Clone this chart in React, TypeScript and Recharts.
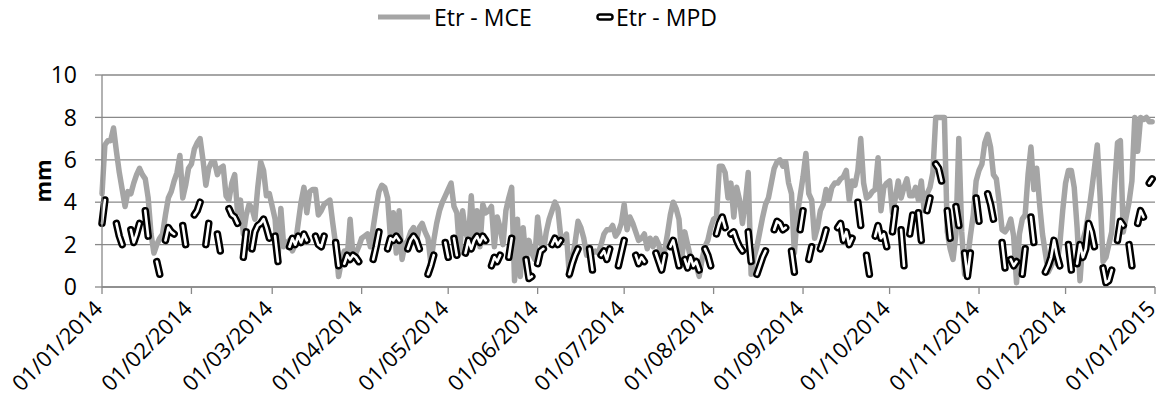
import React from 'react';
import { LineChart, Line, XAxis, YAxis, CartesianGrid, Label } from 'recharts';

// Etr - MCE, daily values (mm), one array per month of 2014
const mceJan = [4.4, 6.7, 6.9, 6.9, 7.5, 6.4, 5.4, 4.6, 3.8, 4.5, 4.4, 4.9, 5.3, 5.6, 5.3, 5.1, 4.2, 2.5, 1.6, 2.0, 2.3, 2.5, 3.4, 4.2, 4.5, 5.0, 5.4, 6.2, 4.2, 4.8, 5.6];
const mceFeb = [5.8, 6.5, 6.8, 7.0, 6.0, 4.8, 5.6, 5.9, 5.9, 5.3, 5.6, 5.7, 4.3, 4.1, 4.9, 5.3, 3.5, 4.1, 2.5, 3.4, 3.9, 3.7, 3.2, 4.7, 5.9, 5.5, 4.3, 4.4];
const mceMar = [3.8, 3.2, 1.3, 3.7, 1.9, 2.1, 2.2, 1.7, 2.0, 3.0, 4.0, 4.7, 3.5, 4.5, 4.6, 4.6, 3.4, 3.6, 3.9, 4.0, 4.1, 3.0, 2.0, 0.5, 1.2, 1.7, 1.4, 3.2, 1.5, 1.6, 1.9];
const mceApr = [2.3, 2.4, 2.5, 1.9, 2.8, 3.7, 4.5, 4.8, 4.7, 4.2, 2.3, 3.5, 1.6, 3.6, 1.3, 2.0, 2.2, 2.6, 2.8, 2.2, 2.8, 3.0, 2.6, 2.3, 1.1, 2.2, 3.0, 3.6, 4.0, 4.3];
const mceMay = [4.6, 4.9, 3.8, 3.5, 1.6, 3.6, 2.6, 2.2, 4.3, 2.2, 3.6, 1.9, 3.9, 3.5, 3.6, 3.8, 1.9, 3.3, 2.8, 2.0, 3.6, 4.2, 4.7, 0.3, 3.2, 0.5, 2.8, 1.2, 2.2, 1.6, 1.3];
const mceJun = [3.3, 2.2, 1.7, 2.6, 3.2, 3.6, 4.0, 3.7, 2.4, 2.2, 2.5, 0.5, 1.3, 2.1, 3.1, 2.8, 2.3, 1.5, 1.7, 1.6, 1.7, 1.6, 2.0, 2.5, 2.7, 2.7, 2.9, 2.4, 2.6, 3.0];
const mceJul = [3.9, 2.7, 3.3, 3.0, 2.6, 2.2, 2.3, 2.5, 1.8, 2.3, 1.9, 2.3, 2.0, 1.3, 1.7, 2.5, 3.4, 4.0, 3.7, 3.2, 1.4, 2.6, 2.0, 1.4, 1.3, 1.0, 0.5, 1.3, 1.9, 2.2, 2.8];
const mceAug = [3.2, 3.3, 5.7, 5.7, 5.4, 4.2, 4.9, 3.3, 4.7, 4.1, 3.0, 4.0, 5.4, 0.6, 1.4, 1.9, 2.6, 3.3, 3.9, 4.2, 4.9, 5.6, 5.9, 6.0, 5.7, 5.9, 4.9, 4.4, 1.6, 3.4, 4.3];
const mceSep = [5.2, 6.3, 4.4, 4.1, 2.3, 2.8, 3.6, 3.9, 4.6, 4.1, 4.7, 4.9, 4.9, 5.1, 5.2, 5.5, 4.1, 5.0, 4.8, 5.5, 7.0, 4.9, 4.2, 4.3, 4.5, 4.6, 6.1, 3.6, 4.7, 4.9];
const mceOct = [5.0, 3.5, 4.2, 5.0, 4.2, 4.7, 5.1, 4.3, 4.3, 4.7, 4.1, 5.0, 3.6, 4.4, 4.7, 5.4, 8.0, 8.0, 8.0, 8.0, 2.6, 1.8, 1.3, 2.5, 7.0, 2.6, 0.6, 1.3, 2.4, 3.4, 5.0];
const mceNov = [5.5, 5.8, 6.8, 7.2, 6.6, 5.3, 5.1, 4.0, 2.7, 2.6, 2.8, 3.2, 2.4, 0.2, 2.5, 3.2, 3.4, 5.3, 6.6, 4.6, 5.6, 3.9, 2.5, 1.6, 0.7, 1.0, 1.9, 1.1, 2.0, 3.6];
const mceDec = [4.9, 5.5, 5.5, 4.7, 2.8, 0.3, 2.2, 2.7, 3.5, 4.5, 5.6, 6.7, 4.2, 1.2, 1.4, 2.0, 2.6, 4.8, 6.8, 6.9, 2.6, 3.3, 4.0, 5.0, 8.0, 6.4, 8.0, 7.9, 8.0, 7.8, 7.8];

// Etr - MPD: runs of consecutive days [first day of year (0 = 01/01/2014), values]
const mpdRuns: [number, number[]][] = [
  [0, [3.0, 4.1]], [5, [3.0, 2.4, 2.0]], [10, [2.7, 2.1, 2.5, 3.0]], [15, [3.6, 2.4]],
  [19, [1.2, 0.6]], [22, [2.2, 2.8, 2.6, 2.5]], [28, [2.9, 2.0]], [32, [3.4, 3.6, 4.0]],
  [36, [2.0, 3.0]], [40, [2.5, 1.7]], [44, [3.7, 3.4, 3.3, 3.0]], [49, [1.4, 2.6]],
  [52, [1.8, 2.6, 2.9, 3.0, 3.2, 2.8, 2.3]], [60, [2.4, 1.2]], [65, [1.9, 2.3, 2.0, 2.4, 2.1, 2.5, 2.2]],
  [74, [2.4, 2.0, 1.9, 2.4]], [81, [2.1, 1.0]], [84, [1.1, 1.5, 1.3, 1.5, 1.4, 1.2]],
  [94, [1.3, 1.9, 2.6]], [99, [1.8, 2.3, 2.2, 2.4, 2.2]], [106, [1.8, 2.2, 2.4, 2.2, 1.8]],
  [113, [0.6, 1.0, 1.5]], [119, [2.1, 1.4]], [122, [2.3, 1.5]],
  [126, [1.6, 2.2, 1.8, 2.2, 2.4, 2.1, 2.4, 2.2]], [135, [1.0, 1.4, 1.2, 1.5]], [141, [1.4, 2.3]],
  [147, [1.3, 0.4, 0.5]], [151, [1.1, 1.7, 1.8]], [156, [2.0, 2.3, 2.0, 2.2]], [162, [0.6, 1.1, 1.5, 1.8]],
  [169, [1.8, 0.8]], [173, [1.5, 1.7, 1.3, 1.8]], [179, [1.0, 1.6, 2.2]], [185, [1.5, 1.1, 1.4, 1.2]],
  [192, [1.6, 1.2, 0.8, 1.5]], [197, [1.9, 2.2, 1.6, 1.0]], [202, [1.3, 0.9, 1.4, 1.0, 1.2, 0.8]],
  [209, [1.8, 1.5, 1.0]], [213, [2.5, 3.0, 3.3, 2.8]], [218, [2.5, 2.6, 2.2, 1.9, 1.7]], [224, [2.6, 1.2]],
  [227, [0.6, 1.0, 1.4, 1.7]], [233, [2.7, 3.1, 3.0, 2.7, 2.8]], [239, [1.7, 0.7]], [242, [2.7, 3.6]],
  [245, [1.3, 1.9]], [249, [1.8, 2.2, 2.7]], [255, [2.8, 3.0, 2.2, 2.6, 2.0, 2.3]], [262, [4.0, 2.9]],
  [265, [1.5, 0.6]], [268, [2.4, 2.9, 2.3, 2.5, 1.9]], [274, [2.6, 3.7]], [277, [2.7, 1.0]],
  [280, [2.5, 3.4]], [283, [3.5, 2.2]], [286, [3.6, 4.2]], [289, [5.8, 5.6, 5.0]], [293, [3.6, 2.3]],
  [296, [3.8, 2.9]], [299, [1.6, 0.5, 1.6]], [303, [4.2, 3.1]], [307, [4.4, 3.9, 3.2]], [312, [2.1, 0.9]],
  [315, [1.3, 1.0, 1.2]], [319, [0.6, 1.8]], [322, [3.3, 2.1]], [327, [0.7, 1.0, 1.4, 2.2, 1.5, 1.0]],
  [335, [2.0, 0.8]], [338, [1.1, 2.0, 1.4, 1.8]], [342, [3.0, 2.6, 1.9]], [347, [0.9, 0.2, 0.3, 0.8]],
  [352, [2.2, 3.1, 2.9]], [356, [2.0, 1.0]], [359, [3.0, 3.6, 3.3]], [363, [4.9, 5.1]],
];

const monthStartDays = [0, 31, 59, 90, 120, 151, 181, 212, 243, 273, 304, 334, 365];
const monthLabels = ['01/01/2014', '01/02/2014', '01/03/2014', '01/04/2014', '01/05/2014', '01/06/2014', '01/07/2014', '01/08/2014', '01/09/2014', '01/10/2014', '01/11/2014', '01/12/2014', '01/01/2015'];
const yTicks = [0, 2, 4, 6, 8, 10];

const mceAll = [mceJan, mceFeb, mceMar, mceApr, mceMay, mceJun, mceJul, mceAug, mceSep, mceOct, mceNov, mceDec].flat();
const mpdAll: (number | null)[] = mceAll.map(() => null);
mpdRuns.forEach(([start, vals]) => vals.forEach((v, i) => { mpdAll[start + i] = v; }));
const data = mceAll.map((v, i) => ({ day: i, mce: v, mpd: mpdAll[i] }));

const FONT = "'Open Sans', sans-serif";
const GRID = '#898989';
const GRAY = '#A5A5A5';

const XTick = (props: any) => {
  const { x, y, payload } = props;
  const idx = monthStartDays.indexOf(payload.value);
  const label = idx >= 0 ? monthLabels[idx] : '';
  const ax = x + 2;
  return (
    <text x={ax} y={y} textAnchor="end" fontFamily={FONT} fontSize={22} fill="#000" transform={`rotate(-45 ${ax} ${y})`}>
      {label}
    </text>
  );
};

export default function App() {
  return (
    <div style={{ position: 'relative', width: 1163, height: 417, background: '#fff' }}>
      <style>{'body{margin:0;}'}</style>
      <LineChart width={1163} height={417} data={data} margin={{ top: 75, right: 8, bottom: 0, left: 0 }}>
        <CartesianGrid vertical={false} stroke={GRID} strokeWidth={1.3} />
        <XAxis
          dataKey="day"
          type="number"
          domain={[0, 365]}
          ticks={monthStartDays}
          interval={0}
          height={130}
          tickSize={7}
          tickMargin={16}
          axisLine={{ stroke: GRID, strokeWidth: 1.3 }}
          tickLine={{ stroke: GRID, strokeWidth: 1.3 }}
          tick={<XTick />}
        />
        <YAxis
          domain={[0, 10]}
          ticks={yTicks}
          width={102}
          tickSize={7}
          tickMargin={18}
          axisLine={{ stroke: GRID, strokeWidth: 1.3 }}
          tickLine={{ stroke: GRID, strokeWidth: 1.3 }}
          tick={{ fontFamily: FONT, fontSize: 23, fill: '#000' }}
        >
          <Label
            content={(p: any) => {
              const vb = p.viewBox;
              const cx = vb.x + 42;
              const cy = vb.y + vb.height / 2;
              return (
                <text x={cx} y={cy} textAnchor="middle" dominantBaseline="central" fontFamily={FONT} fontWeight="bold" fontSize={22} fill="#000" transform={`rotate(-90 ${cx} ${cy})`}>
                  mm
                </text>
              );
            }}
          />
        </YAxis>
        <Line dataKey="mce" type="linear" stroke={GRAY} strokeWidth={5.5} dot={false} activeDot={false} isAnimationActive={false} strokeLinejoin="round" strokeLinecap="round" />
        <Line dataKey="mpd" type="linear" stroke="#000" strokeWidth={7.5} dot={false} activeDot={false} isAnimationActive={false} strokeLinejoin="round" strokeLinecap="round" />
        <Line dataKey="mpd" type="linear" stroke="#fff" strokeWidth={2.6} dot={false} activeDot={false} isAnimationActive={false} strokeLinejoin="round" strokeLinecap="round" />
      </LineChart>
      <svg style={{ position: 'absolute', left: 376, top: 10 }} width={56} height={14}>
        <line x1={2} y1={7} x2={54} y2={7} stroke={GRAY} strokeWidth={5} />
      </svg>
      <div style={{ position: 'absolute', left: 434, top: 1, fontFamily: FONT, fontSize: 23, lineHeight: '32px', color: '#000' }}>Etr - MCE</div>
      <svg style={{ position: 'absolute', left: 594, top: 10 }} width={22} height={14}>
        <line x1={6} y1={7} x2={16} y2={7} stroke="#000" strokeWidth={7.5} strokeLinecap="round" />
        <line x1={6} y1={7} x2={16} y2={7} stroke="#fff" strokeWidth={2.6} strokeLinecap="round" />
      </svg>
      <div style={{ position: 'absolute', left: 616, top: 1, fontFamily: FONT, fontSize: 23, lineHeight: '32px', color: '#000' }}>Etr - MPD</div>
    </div>
  );
}
